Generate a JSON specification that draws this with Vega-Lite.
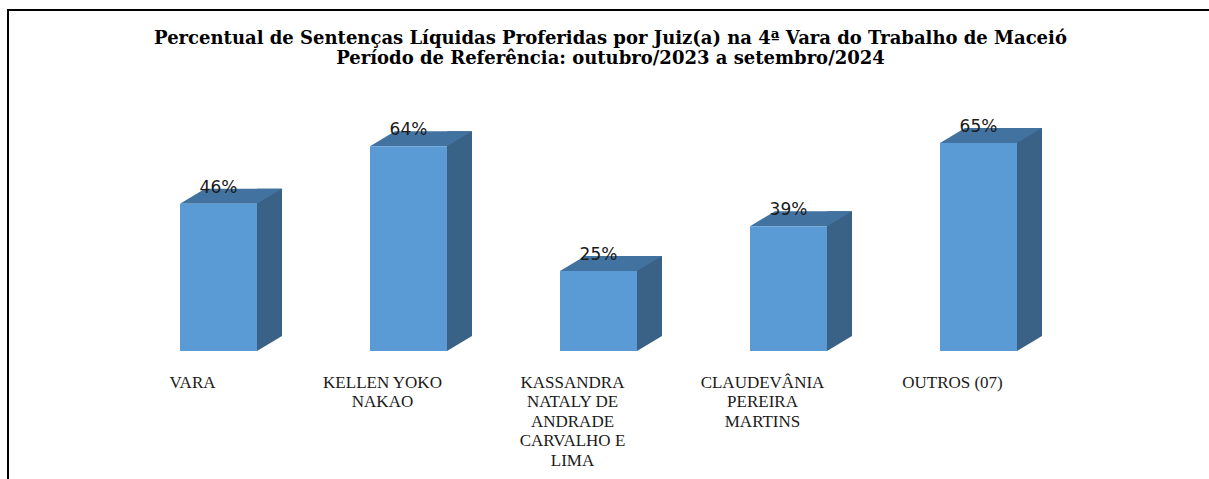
{
  "$schema": "https://vega.github.io/schema/vega-lite/v6.json",
  "width": 1205,
  "height": 473,
  "autosize": {"type": "none"},
  "padding": {"left": 8, "top": 10, "right": -4, "bottom": -4},
  "background": "white",
  "title": {
    "text": ["Percentual de Sentenças Líquidas Proferidas por Juiz(a) na 4ª Vara do Trabalho de Maceió", "Período de Referência: outubro/2023 a setembro/2024"],
    "font": "DejaVu Serif",
    "fontSize": 18,
    "fontWeight": "bold",
    "lineHeight": 20,
    "color": "#000000",
    "anchor": "middle",
    "baseline": "top",
    "offset": 0,
    "dy": 58
  },
  "config": {
    "view": {"stroke": "#000000", "strokeWidth": 2, "fill": "white"}
  },
  "data": {
    "values": [
      {"juiz": "VARA", "pct": 0.46},
      {"juiz": "KELLEN YOKO\nNAKAO", "pct": 0.64},
      {"juiz": "KASSANDRA\nNATALY DE\nANDRADE\nCARVALHO E\nLIMA", "pct": 0.25},
      {"juiz": "CLAUDEVÂNIA\nPEREIRA\nMARTINS", "pct": 0.39},
      {"juiz": "OUTROS (07)", "pct": 0.65}
    ]
  },
  "encoding": {
    "x": {
      "field": "juiz",
      "type": "nominal",
      "sort": null,
      "title": null,
      "scale": {"range": [115.5, 1065.5], "paddingInner": 0, "paddingOuter": 0},
      "axis": {
        "offset": -132,
        "domain": false,
        "ticks": false,
        "tickSize": 0,
        "labelAngle": 0,
        "labelPadding": 23,
        "labelOffset": -26,
        "labelFont": "Liberation Serif",
        "labelFontSize": 17,
        "labelLineHeight": 19.5,
        "labelColor": "#1a1a1a",
        "labelLimit": 0,
        "labelOverlap": false,
        "labelBound": false,
        "labelExpr": "split(datum.label, '\\n')"
      }
    },
    "y": {
      "field": "pct",
      "type": "quantitative",
      "scale": {"domain": [0, 1], "range": [341, 21]},
      "axis": null
    }
  },
  "layer": [
    {
      "mark": {"type": "bar", "width": 25, "xOffset": 51, "yOffset": -15, "y2Offset": -15, "color": "#3A6186"}
    },
    {
      "mark": {"type": "point", "shape": "M38.5,0L38.5,-15L63.5,-15Z", "size": 4, "filled": true, "opacity": 1, "color": "#3A6186", "strokeWidth": 0},
      "encoding": {"y": {"datum": 0, "type": "quantitative"}}
    },
    {
      "mark": {"type": "point", "shape": "M-38.5,0L38.5,0L63.5,-15L-13.5,-15Z", "size": 4, "filled": true, "opacity": 1, "color": "#4272A0", "strokeWidth": 0}
    },
    {
      "mark": {"type": "bar", "width": 77, "color": "#5B9BD5"}
    },
    {
      "mark": {"type": "text", "font": "DejaVu Sans", "fontSize": 17, "color": "#1a1a1a", "baseline": "middle", "dy": -16},
      "encoding": {"text": {"field": "pct", "type": "quantitative", "format": ".0%"}}
    }
  ]
}
